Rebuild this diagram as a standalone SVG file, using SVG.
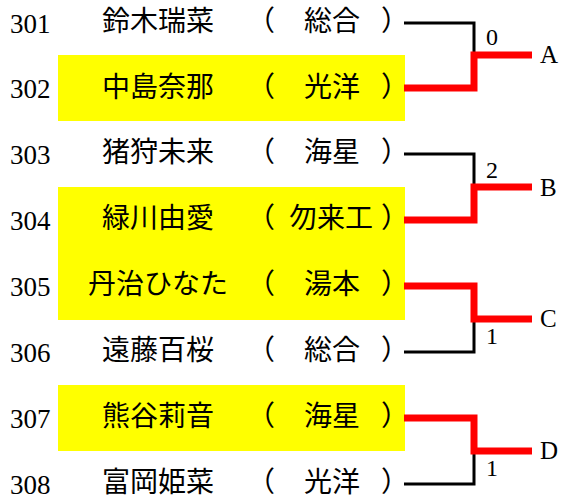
<svg xmlns="http://www.w3.org/2000/svg" width="563" height="502" viewBox="0 0 563 502">
<style>
.num{font-family:"Liberation Serif",serif;font-size:27px;fill:#000}
.jp{font-family:"Liberation Serif","Noto Sans CJK JP",serif;font-size:28px;fill:#000}
.nm{text-anchor:middle}
.sc{text-anchor:middle}
.hl{fill:#FFFF00}
.lbl{font-family:"Liberation Serif",serif;font-size:24px;fill:#000}
.res{font-family:"Liberation Serif",serif;font-size:25px;fill:#000}
.lose{fill:none;stroke:#000;stroke-width:3}
.win{fill:none;stroke:#FF0000;stroke-width:7;stroke-linejoin:miter}
</style>
<rect width="563" height="502" fill="#fff"/>
<g id="p301">
<text class="num" x="10" y="33">301</text>
<text class="jp nm" x="158" y="31">鈴木瑞菜</text>
<text class="jp" x="247" y="31">（</text>
<text class="jp sc" x="332" y="31">総合</text>
<text class="jp" x="381" y="31">）</text>
</g>
<g id="p302">
<rect class="hl" x="58" y="55" width="347" height="66"/>
<text class="num" x="10" y="98">302</text>
<text class="jp nm" x="158" y="97">中島奈那</text>
<text class="jp" x="247" y="97">（</text>
<text class="jp sc" x="332" y="97">光洋</text>
<text class="jp" x="381" y="97">）</text>
</g>
<g id="p303">
<text class="num" x="10" y="164">303</text>
<text class="jp nm" x="158" y="162">猪狩未来</text>
<text class="jp" x="247" y="162">（</text>
<text class="jp sc" x="332" y="162">海星</text>
<text class="jp" x="381" y="162">）</text>
</g>
<g id="p304">
<rect class="hl" x="58" y="187" width="347" height="66"/>
<text class="num" x="10" y="230">304</text>
<text class="jp nm" x="158" y="228">緑川由愛</text>
<text class="jp" x="247" y="228">（</text>
<text class="jp sc" x="331" y="228">勿来工</text>
<text class="jp" x="381" y="228">）</text>
</g>
<g id="p305">
<rect class="hl" x="58" y="253" width="347" height="67"/>
<text class="num" x="10" y="296">305</text>
<text class="jp nm" x="158" y="294">丹治ひなた</text>
<text class="jp" x="247" y="294">（</text>
<text class="jp sc" x="332" y="294">湯本</text>
<text class="jp" x="381" y="294">）</text>
</g>
<g id="p306">
<text class="num" x="10" y="362">306</text>
<text class="jp nm" x="158" y="360">遠藤百桜</text>
<text class="jp" x="247" y="360">（</text>
<text class="jp sc" x="332" y="360">総合</text>
<text class="jp" x="381" y="360">）</text>
</g>
<g id="p307">
<rect class="hl" x="58" y="385" width="347" height="66"/>
<text class="num" x="10" y="428">307</text>
<text class="jp nm" x="158" y="426">熊谷莉音</text>
<text class="jp" x="247" y="426">（</text>
<text class="jp sc" x="332" y="426">海星</text>
<text class="jp" x="381" y="426">）</text>
</g>
<g id="p308">
<text class="num" x="10" y="494">308</text>
<text class="jp nm" x="158" y="492">富岡姫菜</text>
<text class="jp" x="247" y="492">（</text>
<text class="jp sc" x="332" y="492">光洋</text>
<text class="jp" x="381" y="492">）</text>
</g>
<g id="connectors">
<path class="lose" d="M404,23 H474 V55"/>
<path class="win" d="M404,88 H474 V55 H532"/>
<path class="lose" d="M404,154 H474 V187"/>
<path class="win" d="M404,220 H474 V187 H532"/>
<path class="lose" d="M404,352 H474 V319"/>
<path class="win" d="M404,286 H474 V319 H532"/>
<path class="lose" d="M404,484 H474 V451"/>
<path class="win" d="M404,418 H474 V451 H532"/>
</g>
<g id="scores">
<text class="lbl" x="486" y="45">0</text>
<text class="lbl" x="486" y="178">2</text>
<text class="lbl" x="486" y="344">1</text>
<text class="lbl" x="486" y="476">1</text>
</g>
<g id="results">
<text class="res" x="540" y="63">A</text>
<text class="res" x="540" y="196">B</text>
<text class="res" x="540" y="327">C</text>
<text class="res" x="540" y="459">D</text>
</g>
</svg>
